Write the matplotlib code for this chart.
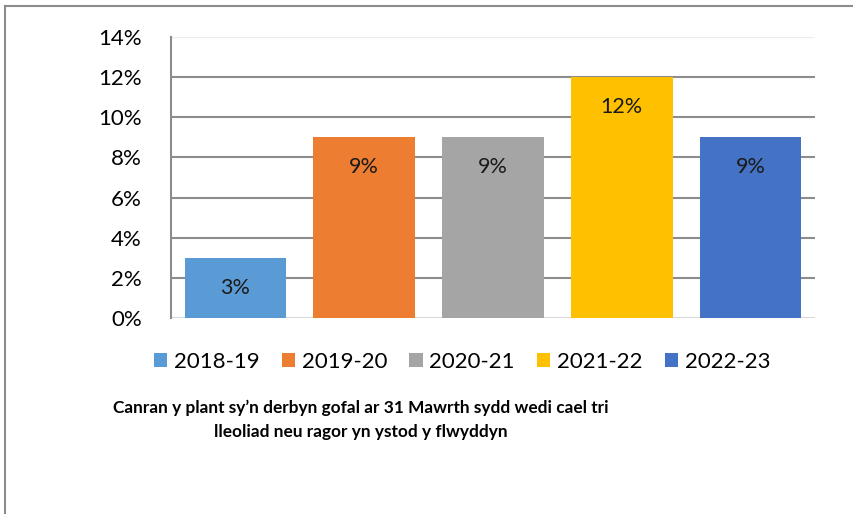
import numpy as np
import matplotlib.pyplot as plt
from matplotlib.lines import Line2D
from matplotlib.patches import Patch

years  = ["2018-19", "2019-20", "2020-21", "2021-22", "2022-23"]
values = [3, 9, 9, 12, 9]
colors = ["#5B9BD5", "#ED7D31", "#A5A5A5", "#FFC000", "#4472C4"]
yticks = [0, 2, 4, 6, 8, 10, 12, 14]
title  = ("Canran y plant sy\u2019n derbyn gofal ar 31 Mawrth sydd wedi cael tri\n"
          "lleoliad neu ragor yn ystod y flwyddyn")

plt.rcParams['font.family'] = ['Lato', 'DejaVu Sans']

W, H = 854, 514
fig = plt.figure(figsize=(W / 100, H / 100), dpi=100)

# outer frame (left + top visible)
fig.add_artist(Line2D([5 / W, 5 / W], [0, 1 - 6 / H], transform=fig.transFigure, color="#8C8C8C", lw=1.5))
fig.add_artist(Line2D([5 / W, 1], [1 - 6 / H, 1 - 6 / H], transform=fig.transFigure, color="#8C8C8C", lw=1.5))

ax = fig.add_axes([171 / W, 1 - 318 / H, (815 - 171) / W, (318 - 37) / H])
x = np.arange(len(years))
ax.bar(x, values, width=0.79, color=colors, zorder=3)
ax.set_xlim(-0.5, len(years) - 0.5)
ax.set_ylim(0, 14)

for i, v in enumerate(values):
    ax.text(i, v - 1.5, f"{v}%", ha="center", va="center", fontsize=15.5, color="#1A1A1A", zorder=4)

ax.set_yticks(yticks)
ax.set_yticklabels([f"{t}%" for t in yticks], fontsize=16)
ax.set_xticks([])
ax.tick_params(axis="y", length=0, pad=21)
for t in yticks[1:-1]:
    ax.axhline(t, color="#8C8C8C", lw=1.5, zorder=1)
ax.axhline(14, color="#EDEDED", lw=1, zorder=1)
for s in ["top", "right", "bottom"]:
    ax.spines[s].set_visible(False)
ax.axhline(0, color="#D9D9D9", lw=1.5, zorder=2)
ax.spines["left"].set_color("#8C8C8C")
ax.spines["left"].set_linewidth(1.5)

handles = [Patch(facecolor=c, label=y) for c, y in zip(colors, years)]
fig.legend(handles=handles, loc="center", bbox_to_anchor=(462 / W, 1 - 362 / H), ncol=5,
           frameon=False, fontsize=16, handlelength=0.6, handleheight=0.6,
           handletextpad=0.3, columnspacing=1.0)

fig.text(361 / W, 1 - 420 / H, title, ha="center", va="center", fontsize=12.4,
         fontweight="bold", linespacing=1.6)

fig.savefig("out.png", dpi=100)
